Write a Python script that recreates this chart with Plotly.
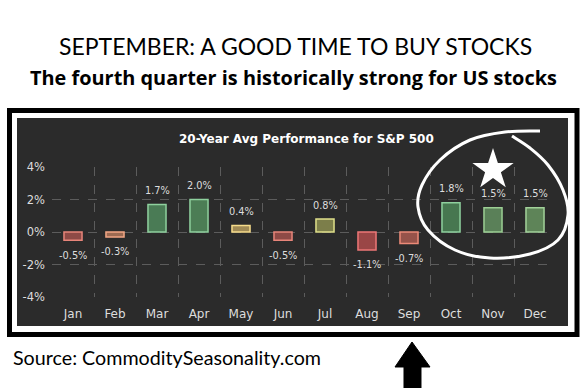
import plotly.graph_objects as go

months = ["Jan", "Feb", "Mar", "Apr", "May", "Jun", "Jul", "Aug", "Sep", "Oct", "Nov", "Dec"]
avg_perf = [-0.5, -0.3, 1.7, 2.0, 0.4, -0.5, 0.8, -1.1, -0.7, 1.8, 1.5, 1.5]
fill_colors = ["#8e4a46", "#9c6a52", "#4a7b55", "#4c7d55", "#a08a55", "#8e4a46",
               "#7c7e4a", "#9a4646", "#96534a", "#477750", "#5a8058", "#5e8458"]
edge_colors = ["#e8857a", "#f3a785", "#8fd19e", "#8fd19e", "#f6dc8a", "#e8857a",
               "#dfe08a", "#ee7777", "#ec8a78", "#8fd19e", "#9ccf94", "#a2d29a"]
y_ticks = [-4, -2, 0, 2, 4]
y_tick_labels = ["-4%", "-2%", "0%", "2%", "4%"]

W, H = 587, 388
ML, MR, MT, MB = 52, 31, 167, 91
PW = W - ML - MR
PH = H - MT - MB


def px(x):
    return (x - ML) / PW


def py(y):
    return (H - MB - y) / PH


fig = go.Figure()
fig.add_trace(go.Bar(
    x=months, y=avg_perf,
    marker=dict(color=fill_colors, line=dict(color=edge_colors, width=1.5)),
    width=0.43, hoverinfo="skip", showlegend=False,
))

# value labels
for m, v in zip(months, avg_perf):
    fig.add_annotation(x=m, y=v, xref="x", yref="y", text=f"{v:.1f}%", showarrow=False,
                       yshift=14 if v >= 0 else -15,
                       font=dict(family="DejaVu Sans", size=9.8, color="#dddddd"))

# star
fig.add_trace(go.Scatter(x=["Nov"], y=[3.83], mode="markers",
                         marker=dict(symbol="star", size=31, color="white", line=dict(width=0)),
                         hoverinfo="skip", showlegend=False, cliponaxis=False))

shapes = []
# dark panel
shapes.append(dict(type="rect", xref="paper", yref="paper", x0=px(17), x1=px(568), y0=py(326), y1=py(118),
                   fillcolor="#2b2b2b", line=dict(width=0), layer="below"))
# black frame
shapes.append(dict(type="rect", xref="paper", yref="paper", x0=px(9.5), x1=px(577), y0=py(334.5), y1=py(110.5),
                   line=dict(color="black", width=5), fillcolor="rgba(0,0,0,0)"))


def path_from(points, close=False):
    s = "M " + " L ".join(f"{px(a):.5f},{py(b):.5f}" for a, b in points)
    return s + (" Z" if close else "")


def curve_from(points):
    # smooth path via Catmull-Rom to cubic Bezier
    pts = [(px(a), py(b)) for a, b in points]
    d = f"M {pts[0][0]:.5f},{pts[0][1]:.5f}"
    for i in range(len(pts) - 1):
        p0 = pts[i - 1] if i > 0 else pts[i]
        p1 = pts[i]
        p2 = pts[i + 1]
        p3 = pts[i + 2] if i + 2 < len(pts) else p2
        c1 = (p1[0] + (p2[0] - p0[0]) / 6, p1[1] + (p2[1] - p0[1]) / 6)
        c2 = (p2[0] - (p3[0] - p1[0]) / 6, p2[1] - (p3[1] - p1[1]) / 6)
        d += f" C {c1[0]:.5f},{c1[1]:.5f} {c2[0]:.5f},{c2[1]:.5f} {p2[0]:.5f},{p2[1]:.5f}"
    return d


loop = [(540, 131), (505, 132), (470, 140), (440, 160), (422, 185), (418, 207), (428, 230),
        (455, 250), (490, 258), (530, 254), (558, 240), (568, 215), (563, 190), (548, 165),
        (530, 148), (512, 136)]
shapes.append(dict(type="path", xref="paper", yref="paper", path=curve_from(loop),
                   line=dict(color="white", width=3)))

arrow = [(412, 342), (430, 367), (421, 367), (421, 388), (404, 388), (404, 367), (395, 367)]
shapes.append(dict(type="path", xref="paper", yref="paper", path=path_from(arrow, close=True),
                   fillcolor="black", line=dict(color="black", width=1)))

fig.update_layout(shapes=shapes)

fig.add_annotation(xref="paper", yref="paper", x=px(295), y=py(45.5), text="SEPTEMBER: A GOOD TIME TO BUY STOCKS",
                   showarrow=False, xanchor="center", yanchor="middle",
                   font=dict(family="Lato", size=23, color="black"))
fig.add_annotation(xref="paper", yref="paper", x=px(293), y=py(77), text="<b>The fourth quarter is historically strong for US stocks</b>",
                   showarrow=False, xanchor="center", yanchor="middle",
                   font=dict(family="Open Sans", size=19.9, color="black"))
fig.add_annotation(xref="paper", yref="paper", x=px(11), y=py(357), text="Source: CommoditySeasonality.com",
                   showarrow=False, xanchor="left", yanchor="middle",
                   font=dict(family="Lato", size=19.7, color="black"))
fig.add_annotation(xref="paper", yref="paper", x=px(306), y=py(138.5), text="<b>20-Year Avg Performance for S&P 500</b>",
                   showarrow=False, xanchor="center", yanchor="middle",
                   font=dict(family="DejaVu Sans", size=12, color="white"))

fig.update_layout(
    width=W, height=H,
    margin=dict(l=ML, r=MR, t=MT, b=MB, pad=0),
    paper_bgcolor="white", plot_bgcolor="rgba(0,0,0,0)",
    bargap=0.57,
    xaxis=dict(type="category", range=[-0.5, 11.5], tickson="boundaries", showgrid=True,
               gridcolor="#5c5c5c", griddash="dash", gridwidth=1, zeroline=False, showline=False,
               ticks="", ticklabelstandoff=8,
               tickfont=dict(family="DejaVu Sans", size=12, color="#dddddd"), fixedrange=True),
    yaxis=dict(range=[-4, 4], tickvals=y_ticks, ticktext=y_tick_labels, showgrid=True,
               gridcolor="#5c5c5c", griddash="dash", gridwidth=1, zeroline=False, showline=False,
               ticks="", ticklabelstandoff=6,
               tickfont=dict(family="DejaVu Sans", size=11.5, color="#dddddd"), fixedrange=True),
)

fig.write_html("out.html", config={"displayModeBar": False},
               post_script="document.body.style.margin='0px';document.body.style.overflow='hidden';")
